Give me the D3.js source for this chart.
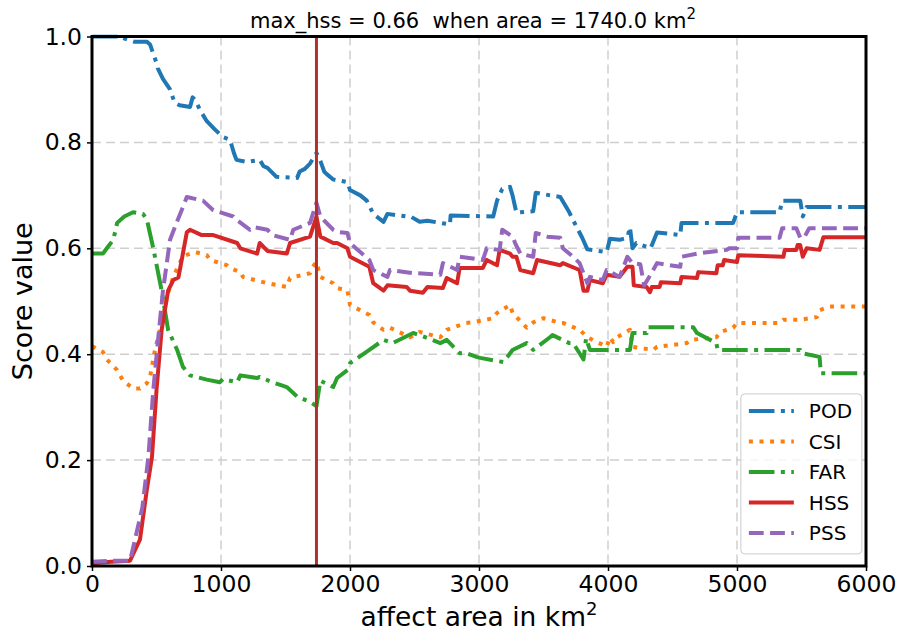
<!DOCTYPE html>
<html>
<head>
<meta charset="utf-8">
<title>Score value vs affect area</title>
<script src="https://d3js.org/d3.v7.min.js"></script>
<style>
  html, body { margin: 0; padding: 0; background: #fff; }
  text { font-family: "DejaVu Sans", sans-serif; fill: #000; }
  .grid line { stroke: #cfcfcf; stroke-width: 1.5; stroke-dasharray: 9,5; }
  .axis path { display: none; }
  .axis line { stroke: #000; stroke-width: 1.5; }
  .axis text { font-size: 23.5px; }
  path.series { fill: none; stroke-width: 4; stroke-linejoin: round; }
</style>
</head>
<body>
<script>
// values
var xTicks = [0, 1000, 2000, 3000, 4000, 5000, 6000];
var yTicks = [0.0, 0.2, 0.4, 0.6, 0.8, 1.0];
var names = ["POD", "CSI", "FAR", "HSS", "PSS"];
var maxArea = 1740.0;
var maxHss = 0.66;

var podArea = [0, 230, 240, 330, 426, 450, 500, 510, 550, 605, 640, 680, 760, 780, 800, 840, 890, 950, 1015, 1070, 1100, 1120, 1200, 1300, 1330, 1360, 1430, 1590, 1610, 1650, 1690, 1740, 1770, 1800, 1820, 1870, 1980, 2000, 2080, 2130, 2180, 2260, 2290, 2440, 2470, 2540, 2600, 2775, 2780, 3110, 3140, 3180, 3240, 3260, 3290, 3320, 3420, 3440, 3550, 3630, 3700, 3730, 3800, 3840, 3990, 4015, 4090, 4150, 4170, 4190, 4220, 4330, 4380, 4560, 4570, 4970, 5000, 5330, 5350, 5490, 5510, 5540, 6000];
var podVals = [1.0, 1.0, 0.997, 0.99, 0.99, 0.985, 0.95, 0.94, 0.92, 0.9, 0.875, 0.87, 0.867, 0.885, 0.88, 0.86, 0.84, 0.825, 0.81, 0.805, 0.78, 0.767, 0.763, 0.767, 0.755, 0.752, 0.735, 0.733, 0.745, 0.75, 0.76, 0.78, 0.765, 0.745, 0.74, 0.73, 0.725, 0.71, 0.70, 0.69, 0.665, 0.65, 0.665, 0.66, 0.66, 0.65, 0.652, 0.645, 0.662, 0.66, 0.69, 0.712, 0.716, 0.70, 0.667, 0.668, 0.67, 0.705, 0.70, 0.697, 0.668, 0.653, 0.62, 0.598, 0.593, 0.618, 0.616, 0.62, 0.64, 0.60, 0.61, 0.60, 0.63, 0.625, 0.648, 0.648, 0.668, 0.668, 0.69, 0.69, 0.66, 0.678, 0.678];

var csiArea = [0, 85, 115, 195, 240, 320, 372, 425, 450, 488, 550, 580, 630, 705, 800, 890, 915, 1045, 1070, 1150, 1170, 1360, 1510, 1535, 1690, 1710, 1740, 1770, 1870, 1900, 1980, 2000, 2080, 2150, 2180, 2260, 2310, 2465, 2540, 2700, 2750, 2900, 2950, 3110, 3140, 3240, 3260, 3370, 3420, 3500, 3630, 3650, 3780, 3840, 3990, 4015, 4040, 4070, 4170, 4190, 4350, 4380, 4610, 4640, 4840, 4870, 4970, 5000, 5330, 5360, 5490, 5620, 5640, 5720, 6000];
var csiVals = [0.415, 0.404, 0.39, 0.37, 0.35, 0.335, 0.335, 0.345, 0.357, 0.408, 0.47, 0.508, 0.546, 0.585, 0.593, 0.587, 0.578, 0.568, 0.563, 0.555, 0.546, 0.534, 0.527, 0.544, 0.553, 0.565, 0.574, 0.546, 0.534, 0.525, 0.52, 0.493, 0.483, 0.474, 0.46, 0.446, 0.45, 0.432, 0.442, 0.432, 0.446, 0.459, 0.46, 0.468, 0.478, 0.493, 0.478, 0.45, 0.46, 0.468, 0.459, 0.459, 0.446, 0.432, 0.414, 0.432, 0.423, 0.432, 0.446, 0.414, 0.408, 0.414, 0.421, 0.427, 0.432, 0.442, 0.45, 0.459, 0.459, 0.465, 0.465, 0.47, 0.483, 0.49, 0.49];

var farArea = [0, 85, 115, 165, 195, 250, 318, 395, 425, 475, 540, 590, 660, 705, 760, 890, 990, 1015, 1125, 1150, 1280, 1300, 1400, 1460, 1510, 1590, 1690, 1740, 1770, 1870, 1900, 1980, 2000, 2150, 2260, 2330, 2490, 2540, 2700, 2750, 2850, 2900, 2980, 3010, 3190, 3260, 3370, 3420, 3550, 3570, 3700, 3730, 3810, 3830, 3860, 4170, 4190, 4300, 4310, 4660, 4690, 4840, 4850, 5490, 5500, 5640, 5650, 6000];
var farVals = [0.59, 0.59, 0.6, 0.616, 0.648, 0.66, 0.668, 0.665, 0.655, 0.6, 0.52, 0.446, 0.408, 0.376, 0.36, 0.352, 0.347, 0.353, 0.347, 0.36, 0.355, 0.357, 0.347, 0.342, 0.338, 0.32, 0.31, 0.302, 0.35, 0.338, 0.355, 0.37, 0.383, 0.408, 0.427, 0.421, 0.44, 0.436, 0.421, 0.427, 0.402, 0.402, 0.395, 0.393, 0.385, 0.408, 0.421, 0.408, 0.432, 0.436, 0.421, 0.421, 0.39, 0.43, 0.408, 0.408, 0.44, 0.44, 0.451, 0.451, 0.44, 0.421, 0.408, 0.408, 0.402, 0.395, 0.364, 0.364];

var hssArea = [0, 150, 295, 372, 425, 465, 500, 540, 590, 630, 670, 700, 735, 760, 850, 940, 1125, 1150, 1280, 1300, 1360, 1510, 1535, 1690, 1740, 1770, 1870, 1900, 1980, 2000, 2150, 2180, 2260, 2290, 2440, 2465, 2565, 2600, 2720, 2750, 2830, 2850, 3030, 3060, 3140, 3160, 3240, 3260, 3290, 3320, 3420, 3450, 3630, 3650, 3780, 3810, 3840, 3860, 3960, 3990, 4090, 4150, 4190, 4200, 4300, 4325, 4340, 4400, 4410, 4560, 4570, 4690, 4700, 4840, 4850, 4890, 4900, 5000, 5010, 5360, 5370, 5460, 5470, 5490, 5510, 5540, 5640, 5670, 6000];
var hssVals = [0.005, 0.008, 0.01, 0.05, 0.144, 0.206, 0.332, 0.446, 0.52, 0.54, 0.545, 0.584, 0.63, 0.635, 0.625, 0.625, 0.61, 0.6, 0.59, 0.61, 0.595, 0.59, 0.61, 0.622, 0.66, 0.622, 0.61, 0.61, 0.6, 0.584, 0.565, 0.534, 0.52, 0.53, 0.527, 0.52, 0.516, 0.527, 0.525, 0.544, 0.534, 0.563, 0.563, 0.578, 0.568, 0.597, 0.59, 0.584, 0.584, 0.559, 0.553, 0.578, 0.568, 0.572, 0.559, 0.52, 0.52, 0.54, 0.534, 0.55, 0.546, 0.565, 0.565, 0.53, 0.527, 0.517, 0.527, 0.527, 0.536, 0.534, 0.546, 0.544, 0.555, 0.553, 0.568, 0.568, 0.578, 0.574, 0.587, 0.584, 0.597, 0.597, 0.606, 0.606, 0.584, 0.6, 0.597, 0.621, 0.621];

var pssArea = [0, 150, 295, 390, 437, 475, 512, 550, 605, 655, 705, 735, 860, 940, 1095, 1125, 1225, 1250, 1360, 1400, 1535, 1560, 1690, 1740, 1770, 1870, 1900, 1980, 2000, 2150, 2180, 2290, 2310, 2490, 2520, 2700, 2720, 2830, 2850, 3030, 3060, 3160, 3180, 3260, 3280, 3320, 3420, 3440, 3530, 3630, 3650, 3730, 3780, 3840, 3860, 3960, 3990, 4090, 4150, 4190, 4250, 4280, 4330, 4380, 4560, 4570, 4690, 4920, 4940, 5000, 5010, 5330, 5350, 5460, 5490, 5520, 5560, 6000];
var pssVals = [0.008, 0.01, 0.01, 0.11, 0.206, 0.332, 0.427, 0.52, 0.616, 0.648, 0.678, 0.697, 0.69, 0.672, 0.66, 0.653, 0.635, 0.64, 0.635, 0.625, 0.616, 0.635, 0.648, 0.686, 0.66, 0.635, 0.631, 0.629, 0.61, 0.578, 0.559, 0.546, 0.559, 0.553, 0.553, 0.55, 0.572, 0.559, 0.584, 0.578, 0.6, 0.597, 0.635, 0.622, 0.61, 0.59, 0.584, 0.629, 0.622, 0.62, 0.6, 0.584, 0.572, 0.534, 0.546, 0.54, 0.559, 0.546, 0.584, 0.572, 0.57, 0.53, 0.55, 0.572, 0.565, 0.584, 0.59, 0.597, 0.6, 0.6, 0.62, 0.62, 0.638, 0.638, 0.62, 0.62, 0.638, 0.638];

var W = 901, H = 633;
var margin = {left: 92, right: 35, top: 36.5, bottom: 67};
var width = W - margin.left - margin.right;
var height = H - margin.top - margin.bottom;

var colors = {POD: "#1f77b4", CSI: "#ff7f0e", FAR: "#2ca02c", HSS: "#d62728", PSS: "#9467bd"};
var dashes = {POD: "25.6,6.4,4,6.4", CSI: "4,6.6", FAR: "25.6,6.4,4,6.4", HSS: null, PSS: "14.8,6.4"};
var seriesData = {
  POD: d3.zip(podArea, podVals),
  CSI: d3.zip(csiArea, csiVals),
  FAR: d3.zip(farArea, farVals),
  HSS: d3.zip(hssArea, hssVals),
  PSS: d3.zip(pssArea, pssVals)
};

var x = d3.scaleLinear().domain([0, 6000]).range([0, width]);
var y = d3.scaleLinear().domain([0, 1]).range([height, 0]);

var svg = d3.select("body").append("svg").attr("width", W).attr("height", H);
var g = svg.append("g").attr("transform", "translate(" + margin.left + "," + margin.top + ")");

g.append("clipPath").attr("id", "clip")
  .append("rect").attr("x", -2).attr("y", -2).attr("width", width + 4).attr("height", height + 4);

// grid
var grid = g.append("g").attr("class", "grid");
grid.selectAll("line.v").data(xTicks).enter().append("line").attr("class", "v")
  .attr("x1", function(d) { return x(d); }).attr("x2", function(d) { return x(d); })
  .attr("y1", 0).attr("y2", height);
grid.selectAll("line.h").data(yTicks).enter().append("line").attr("class", "h")
  .attr("y1", function(d) { return y(d); }).attr("y2", function(d) { return y(d); })
  .attr("x1", 0).attr("x2", width);

var line = d3.line()
  .x(function(d) { return x(d[0]); })
  .y(function(d) { return y(d[1]); });

var plot = g.append("g").attr("clip-path", "url(#clip)");
names.forEach(function(n) {
  plot.append("path")
    .attr("class", "series")
    .attr("d", line(seriesData[n]))
    .attr("stroke", colors[n])
    .attr("stroke-dasharray", dashes[n]);
});

// best area marker
plot.append("line")
  .attr("x1", x(maxArea)).attr("x2", x(maxArea))
  .attr("y1", 0).attr("y2", height)
  .attr("stroke", "#b2302b").attr("stroke-width", 3);

// axes
g.append("g").attr("class", "axis x")
  .attr("transform", "translate(0," + height + ")")
  .call(d3.axisBottom(x).tickValues(xTicks).tickFormat(d3.format("d")).tickSize(5).tickPadding(4));
g.append("g").attr("class", "axis y")
  .call(d3.axisLeft(y).tickValues(yTicks).tickFormat(d3.format(".1f")).tickSize(5).tickPadding(5));

// frame
g.append("rect").attr("width", width).attr("height", height)
  .attr("fill", "none").attr("stroke", "#000").attr("stroke-width", 3);

// title
var title = svg.append("text")
  .attr("x", margin.left + width / 2 - 6).attr("y", 28)
  .attr("text-anchor", "middle").style("font-size", "21px");
title.append("tspan").text("max_hss = " + maxHss.toFixed(2) + "\u00a0 when area = " + maxArea.toFixed(1) + " km");
title.append("tspan").attr("dy", -9).style("font-size", "15px").text("2");

// axis labels
var xl = svg.append("text")
  .attr("x", margin.left + width / 2).attr("y", 626)
  .attr("text-anchor", "middle").style("font-size", "26.5px");
xl.append("tspan").text("affect area in km");
xl.append("tspan").attr("dy", -11).style("font-size", "18px").text("2");

svg.append("text")
  .attr("transform", "translate(32," + (margin.top + height / 2) + ") rotate(-90)")
  .attr("text-anchor", "middle").style("font-size", "27px")
  .text("Score value");

// legend
var lg = g.append("g").attr("transform", "translate(" + x(5030) + "," + y(0.325) + ")");
lg.append("rect").attr("width", 121).attr("height", 160).attr("rx", 4)
  .attr("fill", "#fff").attr("fill-opacity", 0.8).attr("stroke", "#cccccc").attr("stroke-width", 1);
names.forEach(function(n, i) {
  var yy = 17 + i * 30.5;
  lg.append("line").attr("x1", 8).attr("x2", 53).attr("y1", yy).attr("y2", yy)
    .attr("stroke", colors[n]).attr("stroke-width", 4).attr("stroke-dasharray", dashes[n]);
  lg.append("text").attr("x", 68).attr("y", yy).attr("dy", "0.36em")
    .style("font-size", "20px").text(n);
});
</script>
</body>
</html>
